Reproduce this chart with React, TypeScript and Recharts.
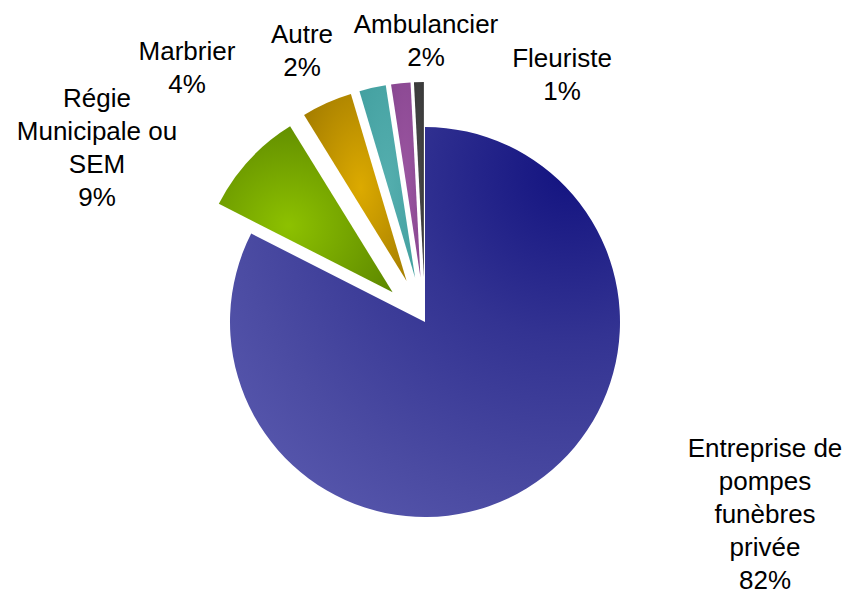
import { PieChart, Pie, Cell } from 'recharts';

// Répartition des opérateurs funéraires (share of each operator type)
const categories = [
  'Entreprise de\npompes\nfunèbres\nprivée',
  'Régie\nMunicipale ou\nSEM',
  'Marbrier',
  'Autre',
  'Ambulancier',
  'Fleuriste',
];
const shares = [82.49, 8.7, 4.2, 2.2, 1.6, 0.81];

const data = categories.map((name, i) => ({ name, value: shares[i] }));

// layout / style
const W = 847;
const H = 590;
const CX = 425;
const CY = 322;
const R = 195;
const EXPLODE = [0, 44, 45, 45, 45, 45];
const FILLS = ['url(#g0)', 'url(#g1)', 'url(#g2)', 'url(#g3)', 'url(#g4)', 'url(#g5)'];
// label anchors (first baseline) relative to pie center, as placed in the original
const LABEL_POS = [
  [340, 135],
  [-328, -215],
  [-238, -262],
  [-123, -279],
  [1, -289],
  [137, -255],
];
const FONT = '"Liberation Sans", Arial, sans-serif';
const LINE_H = 33;

const total = shares.reduce((a, b) => a + b, 0);
const midAngles = shares.map((v, i) => {
  const before = shares.slice(0, i).reduce((a, b) => a + b, 0);
  return 90 - (360 * (before + v / 2)) / total;
});

const renderLabel = (props: any) => {
  const { index, percent } = props;
  const [dx, dy] = LABEL_POS[index];
  const lines = [...categories[index].split('\n'), `${Math.round(percent * 100)}%`];
  return (
    <text
      key={`lbl-${index}`}
      x={CX + dx}
      y={CY + dy}
      textAnchor="middle"
      fontFamily={FONT}
      fontSize={26}
      fill="#000"
    >
      {lines.map((l, k) => (
        <tspan key={k} x={CX + dx} dy={k === 0 ? 0 : LINE_H}>
          {l}
        </tspan>
      ))}
    </text>
  );
};

export default function App() {
  return (
    <div style={{ position: 'absolute', left: 0, top: 0, width: W, height: H, background: '#fff' }}>
      <PieChart width={W} height={H} margin={{ top: 0, right: 0, bottom: 0, left: 0 }}>
        <defs>
          <radialGradient id="g0" gradientUnits="userSpaceOnUse" cx={570} cy={170} r={420}>
            <stop offset="0" stopColor="#131380" />
            <stop offset="0.4" stopColor="#333392" />
            <stop offset="0.8" stopColor="#4b4ba2" />
            <stop offset="1" stopColor="#5656ac" />
          </radialGradient>
          <radialGradient id="g1" cx="0.4" cy="0.6" r="0.7">
            <stop offset="0" stopColor="#8dc100" />
            <stop offset="1" stopColor="#5d8800" />
          </radialGradient>
          <radialGradient id="g2" cx="0.55" cy="0.5" r="0.7">
            <stop offset="0" stopColor="#dcaa00" />
            <stop offset="1" stopColor="#a27b00" />
          </radialGradient>
          <radialGradient id="g3" cx="0.5" cy="0.5" r="0.7">
            <stop offset="0" stopColor="#54aeae" />
            <stop offset="1" stopColor="#43a0a0" />
          </radialGradient>
          <radialGradient id="g4" cx="0.5" cy="0.5" r="0.7">
            <stop offset="0" stopColor="#9a55a0" />
            <stop offset="1" stopColor="#884690" />
          </radialGradient>
          <radialGradient id="g5" cx="0.5" cy="0.5" r="0.7">
            <stop offset="0" stopColor="#474747" />
            <stop offset="1" stopColor="#383838" />
          </radialGradient>
        </defs>
        {data.map((_, i) => {
          const a = (midAngles[i] * Math.PI) / 180;
          const ox = EXPLODE[i] * Math.cos(a);
          const oy = -EXPLODE[i] * Math.sin(a);
          return (
            <Pie
              key={`pie-${i}`}
              data={data}
              dataKey="value"
              nameKey="name"
              cx={CX + ox}
              cy={CY + oy}
              outerRadius={R}
              startAngle={90}
              endAngle={-270}
              isAnimationActive={false}
              labelLine={false}
              label={i === 0 ? renderLabel : false}
            >
              {data.map((__, j) => (
                <Cell
                  key={`c-${i}-${j}`}
                  fill={j === i ? FILLS[j] : 'none'}
                  stroke="none"
                />
              ))}
            </Pie>
          );
        })}
      </PieChart>
    </div>
  );
}
